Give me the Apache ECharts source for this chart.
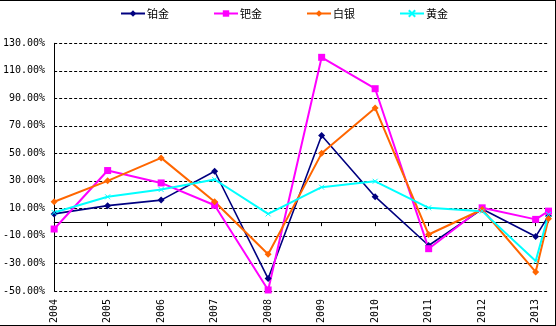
<!DOCTYPE html>
<html>
<head>
<meta charset="utf-8">
<script src="https://cdn.jsdelivr.net/npm/echarts@6/dist/echarts.min.js"></script>
<style>
  html, body { margin: 0; padding: 0; background: #fff; }
  #chart { width: 556px; height: 326px; }
</style>
</head>
<body>
<div id="chart"></div>
<script>
// Year ticks shown on the horizontal axis
const years = [2004, 2005, 2006, 2007, 2008, 2009, 2010, 2011, 2012, 2013];
// Horizontal position of each observation (last one is a partial year)
const xPos = [2004, 2005, 2006, 2007, 2008, 2009, 2010, 2011, 2012, 2013, 2013.24];

// Annual change, percent
const platinum  = [6, 12, 16, 37, -41, 63, 18.5, -17, 9.5, -10.5, 4.5];      // 铂金
const palladium = [-5, 37.5, 28.5, 12.3, -49.3, 119.8, 97, -19.3, 10.4, 2, 8]; // 钯金
const silver    = [14.8, 30, 46.7, 14.8, -23.4, 50, 83, -9, 9.2, -36.2, 2.5];  // 白银
const gold      = [7, 18.4, 23.7, 31, 6, 25.4, 29.7, 10.4, 8, -28.3, 5.6];     // 黄金

const seriesNames = ['铂金', '钯金', '白银', '黄金'];

const X_MIN = xPos[0];
const X_MAX = xPos[xPos.length - 1];

function pairs(vals) {
  return vals.map((v, i) => [xPos[i], v]);
}

const chart = echarts.init(document.getElementById('chart'), null, { renderer: 'canvas' });

const labelFont = 'DejaVu Sans Mono';

chart.setOption({
  animation: false,
  backgroundColor: '#ffffff',
  grid: { left: 53.5, right: 7.5, top: 43.3, bottom: 34.3, containLabel: false },
  legend: {
    data: seriesNames,
    top: 8,
    left: 120,
    itemWidth: 24,
    itemHeight: 8,
    itemGap: 44,
    padding: 0,
    textStyle: { fontFamily: 'Noto Sans CJK SC', fontSize: 11, color: '#000', padding: [0, 0, 0, -3] }
  },
  xAxis: [
    {
      // labels along the bottom edge
      type: 'value',
      min: X_MIN,
      max: X_MAX,
      interval: 1,
      position: 'bottom',
      axisLine: { show: false, onZero: false },
      axisTick: { show: false },
      splitLine: { show: false },
      axisLabel: {
        customValues: years,
        rotate: 90,
        margin: 8,
        fontFamily: labelFont,
        fontSize: 10,
        color: '#000',
        formatter: v => String(Math.round(v))
      }
    },
    {
      // category line crossing at zero
      type: 'value',
      min: X_MIN,
      max: X_MAX,
      interval: 1,
      position: 'bottom',
      axisLine: { show: true, onZero: true, lineStyle: { color: '#000', width: 1 } },
      axisTick: { show: true, customValues: years, length: 4, inside: false, lineStyle: { color: '#000' } },
      axisLabel: { show: false },
      splitLine: { show: false }
    }
  ],
  yAxis: {
    type: 'value',
    min: -50,
    max: 130,
    interval: 20,
    axisLine: { show: true, lineStyle: { color: '#000', width: 1 } },
    axisTick: { show: false },
    splitLine: { show: true, lineStyle: { color: '#000', type: [3, 2], width: 1 } },
    axisLabel: {
      margin: 9,
      fontFamily: labelFont,
      fontSize: 10,
      color: '#000',
      formatter: v => v.toFixed(2) + '%'
    }
  },
  series: [
    {
      name: seriesNames[0], type: 'line', data: pairs(platinum),
      symbol: 'diamond', symbolSize: 7,
      lineStyle: { color: '#000080', width: 1.6 },
      itemStyle: { color: '#000080' }
    },
    {
      name: seriesNames[1], type: 'line', data: pairs(palladium),
      symbol: 'rect', symbolSize: 7,
      lineStyle: { color: '#ff00ff', width: 2 },
      itemStyle: { color: '#ff00ff' }
    },
    {
      name: seriesNames[2], type: 'line', data: pairs(silver),
      symbol: 'diamond', symbolSize: 7,
      lineStyle: { color: '#ff6600', width: 2 },
      itemStyle: { color: '#ff6600' }
    },
    {
      name: seriesNames[3], type: 'line', data: pairs(gold),
      symbol: 'path://M0,0L10,10M10,0L0,10', symbolSize: 5,
      lineStyle: { color: '#00ffff', width: 2 },
      itemStyle: { color: '#00ffff', borderColor: '#00ffff', borderWidth: 1 }
    }
  ],
  graphic: [
    { type: 'line', shape: { x1: 0, y1: 0.5, x2: 556, y2: 0.5 }, style: { stroke: '#000', lineWidth: 1 } },
    { type: 'line', shape: { x1: 555.5, y1: 0, x2: 555.5, y2: 326 }, style: { stroke: '#000', lineWidth: 1 } },
    { type: 'line', shape: { x1: 0, y1: 325.5, x2: 556, y2: 325.5 }, style: { stroke: '#000', lineWidth: 1 } }
  ]
});
</script>
</body>
</html>
